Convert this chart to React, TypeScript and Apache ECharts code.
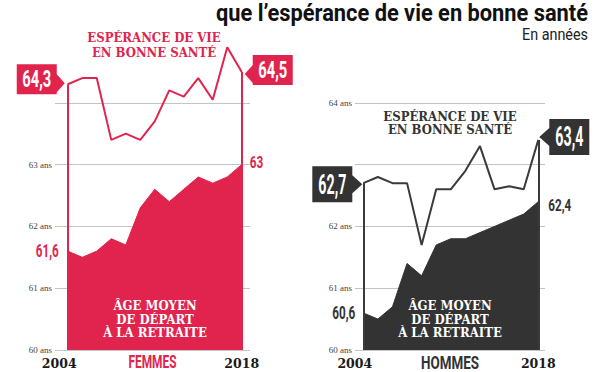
import React, { useEffect, useRef } from "react";
import * as echarts from "echarts";

// ---- Data ----
const yearLabels = ["2004", "2018"];
const panelNames = ["FEMMES", "HOMMES"];
const femmesEsperance = [64.3, 64.4, 64.4, 63.4, 63.5, 63.4, 63.7, 64.2, 64.1, 64.4, 64.05, 64.9, 64.5];
const femmesRetraite = [61.6, 61.5, 61.6, 61.8, 61.7, 62.3, 62.6, 62.4, 62.6, 62.8, 62.7, 62.8, 63.0];
const hommesEsperance = [62.7, 62.8, 62.7, 62.7, 61.7, 62.6, 62.6, 62.9, 63.3, 62.6, 62.65, 62.6, 63.4];
const hommesRetraite = [60.6, 60.5, 60.7, 61.4, 61.2, 61.7, 61.8, 61.8, 61.9, 62.0, 62.1, 62.2, 62.4];
const yMin = 60;
const yMax = 65;
const hiddenYLabels = [[64, 65], [63, 65]];

const titleText = "que l\u2019espérance de vie en bonne santé";
const subtitleText = "En années";
const esperanceLabel = "ESPÉRANCE DE VIE\nEN BONNE SANTÉ";
const retraiteLabel = "ÂGE MOYEN\nDE DÉPART\nÀ LA RETRAITE";

// ---- Styles ----
const RED = "#e1244d";
const DARK = "#333333";
const DARK_LINE = "#3a3a3a";
const GRID_GREY = "#c4c4c4";
const COND = "Roboto, 'Liberation Sans', sans-serif";
const SLAB = "'DejaVu Serif Condensed', 'DejaVu Serif', serif";
const SMALL_SERIF = "'Liberation Serif', 'DejaVu Serif', serif";
const YEAR_FONT = "'DejaVu Serif', serif";

const fmt = (v: number) => (Number.isInteger(v) ? String(v) : v.toFixed(1).replace(".", ","));

// callout shapes (box + arrow), drawn in px
const BOX_RIGHT_ARROW_L = "path://M0,0H40V10L48,19L40,28V30H0Z";
const BOX_LEFT_ARROW_L = "path://M8,0H48V30H8V28L0,19L8,10Z";
const BOX_RIGHT_ARROW_R = "path://M0,0H40V9L50,18L40,27V36H0Z";
const BOX_LEFT_ARROW_R = "path://M10,0H50V36H10V27L0,18L10,9Z";

const BOXES = [
  [
    { symbol: BOX_RIGHT_ARROW_L, size: [48, 30], offset: [-27, -5], labelOffset: [-4, 0] },
    { symbol: BOX_LEFT_ARROW_L, size: [48, 30], offset: [27, -2], labelOffset: [4, 0] },
  ],
  [
    { symbol: BOX_RIGHT_ARROW_R, size: [50, 36], offset: [-26, 1], labelOffset: [-5, 0] },
    { symbol: BOX_LEFT_ARROW_R, size: [50, 36], offset: [26, -3], labelOffset: [5, 0] },
  ],
];

const COLORS = [RED, DARK];
const LINE_COLORS = [RED, DARK_LINE];
const X_RANGES = [
  [-0.88, 12.57],
  [-0.57, 12.46],
];
const ESPERANCE = [femmesEsperance, hommesEsperance];
const RETRAITE = [femmesRetraite, hommesRetraite];

let measureCtx: CanvasRenderingContext2D | null = null;
function fitScale(text: string, font: string, target: number) {
  if (!measureCtx) measureCtx = document.createElement("canvas").getContext("2d");
  if (!measureCtx) return 1;
  measureCtx.font = font;
  const w = measureCtx.measureText(text).width;
  return w > 0 ? target / w : 1;
}

function condText(
  text: string,
  x: number,
  y: number,
  color: string,
  size: number,
  targetW: number,
  align: string,
  weight = "bold"
) {
  const font = `${weight} ${size}px ${COND}`;
  return {
    type: "text",
    x,
    y,
    z: 50,
    silent: true,
    scaleX: fitScale(text, font, targetW),
    style: { text, fill: color, font, align, verticalAlign: "middle" },
  };
}

function buildOption() {
  const grids = [
    { left: 55, top: 41, width: 195, height: 309, containLabel: false, outerBoundsMode: "none" },
    { left: 355, top: 41, width: 190, height: 309, containLabel: false, outerBoundsMode: "none" },
  ];

  const xAxis = [0, 1].map((gi) => ({
    type: "value",
    gridIndex: gi,
    min: X_RANGES[gi][0],
    max: X_RANGES[gi][1],
    axisLine: { show: false },
    axisTick: { show: false },
    splitLine: { show: false },
    axisLabel: {
      customValues: [0, femmesEsperance.length - 1],
      margin: 7,
      formatter: (v: number) => (v === 0 ? `{s|${yearLabels[0]}}` : `{e|${yearLabels[1]}}`),
      rich: {
        s: { padding: [0, 17, 0, 0], fontFamily: YEAR_FONT, fontWeight: "bold", fontSize: 12.5, color: "#1a1a1a" },
        e: { fontFamily: YEAR_FONT, fontWeight: "bold", fontSize: 12.5, color: "#1a1a1a" },
      },
    },
  }));

  const yAxis = [0, 1].map((gi) => ({
    type: "value",
    gridIndex: gi,
    min: yMin,
    max: yMax,
    interval: 1,
    axisLine: { show: false },
    axisTick: { show: false },
    splitLine: { show: true, showMaxLine: false, lineStyle: { color: GRID_GREY, width: 1 } },
    axisLabel: {
      showMaxLabel: false,
      margin: 3,
      color: "#444",
      fontFamily: SMALL_SERIF,
      fontSize: 9,
      formatter: (v: number) => (hiddenYLabels[gi].includes(v) ? "" : `${v} ans`),
    },
  }));

  const areaSeries = (gi: number, values: number[]) => {
    const color = COLORS[gi];
    return {
      type: "line",
      xAxisIndex: gi,
      yAxisIndex: gi,
      silent: true,
      z: 2,
      symbol: "none",
      itemStyle: { color },
      lineStyle: { color, width: 1 },
      areaStyle: { color, opacity: 1, origin: "start" },
      data: values.map((v, i) => [i, v]),
    };
  };

  const lineSeries = (gi: number, values: number[]) => {
    const last = values.length - 1;
    const color = LINE_COLORS[gi];
    const ends = [0, last];
    return {
      type: "line",
      xAxisIndex: gi,
      yAxisIndex: gi,
      silent: true,
      z: 3,
      clip: false,
      symbol: "none",
      itemStyle: { color },
      lineStyle: { color, width: 2 },
      data: values.map((v, i) => [i, v]),
      markLine: {
        silent: true,
        symbol: ["none", "none"],
        label: { show: false },
        lineStyle: { color, width: 2, type: "solid" },
        data: ends.map((i) => [{ coord: [i, values[i]] }, { coord: [i, yMin] }]),
      },
      markPoint: {
        silent: true,
        itemStyle: { color: COLORS[gi] },
        label: { show: false },
        data: ends.map((i, k) => ({
          coord: [i, values[i]],
          value: values[i],
          symbol: BOXES[gi][k].symbol,
          symbolSize: BOXES[gi][k].size,
          symbolOffset: BOXES[gi][k].offset,
          symbolKeepAspect: false,
        })),
      },
    };
  };

  return {
    animation: false,
    backgroundColor: "#ffffff",
    grid: grids,
    xAxis,
    yAxis,
    series: [
      areaSeries(0, femmesRetraite),
      lineSeries(0, femmesEsperance),
      areaSeries(1, hommesRetraite),
      lineSeries(1, hommesEsperance),
    ],
  };
}

function buildGraphics(chart: any) {
  const px = (gi: number, x: number, y: number) =>
    chart.convertToPixel({ gridIndex: gi }, [x, y]) as number[];

  const slab = (text: string, x: number, y: number, color: string, size: number, lh: number) => ({
    type: "text",
    x,
    y,
    z: 50,
    silent: true,
    style: {
      text,
      fill: color,
      font: `bold ${size}px ${SLAB}`,
      align: "center",
      verticalAlign: "middle",
      lineHeight: lh,
    },
  });

  const els: any[] = [];
  // title + subtitle
  els.push(condText(titleText, 588, 13, "#111", 24, 372, "right"));
  els.push(condText(subtitleText, 588, 35, "#222", 16, 66, "right", "normal"));

  const calloutSizes = [
    { size: 23, w: 29 },
    { size: 27, w: 28 },
  ];
  const areaLabelSize = [
    [
      { size: 18, w: 23, dist: 9, dy: 0 },
      { size: 17, w: 13.5, dist: 8, dy: -2 },
    ],
    [
      { size: 18, w: 23, dist: 8, dy: 0 },
      { size: 17, w: 23, dist: 10, dy: 3 },
    ],
  ];
  const nameWidths = [48, 58];

  for (let gi = 0; gi < 2; gi++) {
    const esp = ESPERANCE[gi];
    const ret = RETRAITE[gi];
    const last = esp.length - 1;
    const ends = [0, last];
    ends.forEach((i, k) => {
      const p = px(gi, i, esp[i]);
      const b = BOXES[gi][k];
      els.push(
        condText(
          fmt(esp[i]),
          p[0] + b.offset[0] + b.labelOffset[0],
          p[1] + b.offset[1] + b.labelOffset[1],
          "#ffffff",
          calloutSizes[gi].size,
          calloutSizes[gi].w,
          "center"
        )
      );
      const q = px(gi, i, ret[i]);
      const a = areaLabelSize[gi][k];
      els.push(
        condText(
          fmt(ret[i]),
          k === 0 ? q[0] - a.dist : q[0] + a.dist,
          q[1] + a.dy,
          COLORS[gi],
          a.size,
          a.w,
          k === 0 ? "right" : "left"
        )
      );
    });
    const left = px(gi, X_RANGES[gi][0], yMin);
    const right = px(gi, X_RANGES[gi][1], yMin);
    els.push(
      condText(panelNames[gi], (left[0] + right[0]) / 2, left[1] + 12.5, COLORS[gi], 18, nameWidths[gi], "center")
    );
  }

  els.push(slab(esperanceLabel, 154, 45, RED, 13, 15));
  els.push(slab(esperanceLabel, 450, 123, DARK, 13, 13.5));
  els.push(slab(retraiteLabel, 155, 319, "#ffffff", 13, 13.5));
  els.push(slab(retraiteLabel, 450, 319, "#ffffff", 13, 13.5));
  return els;
}

export default function App() {
  const ref = useRef<HTMLDivElement>(null);
  useEffect(() => {
    if (!ref.current) return;
    const chart = echarts.init(ref.current, undefined, { renderer: "svg" });
    chart.setOption(buildOption() as any);
    chart.setOption({ graphic: buildGraphics(chart) } as any);
    return () => chart.dispose();
  }, []);
  return (
    <div
      ref={ref}
      style={{ position: "absolute", left: 0, top: 0, width: 600, height: 372, background: "#fff" }}
    />
  );
}
